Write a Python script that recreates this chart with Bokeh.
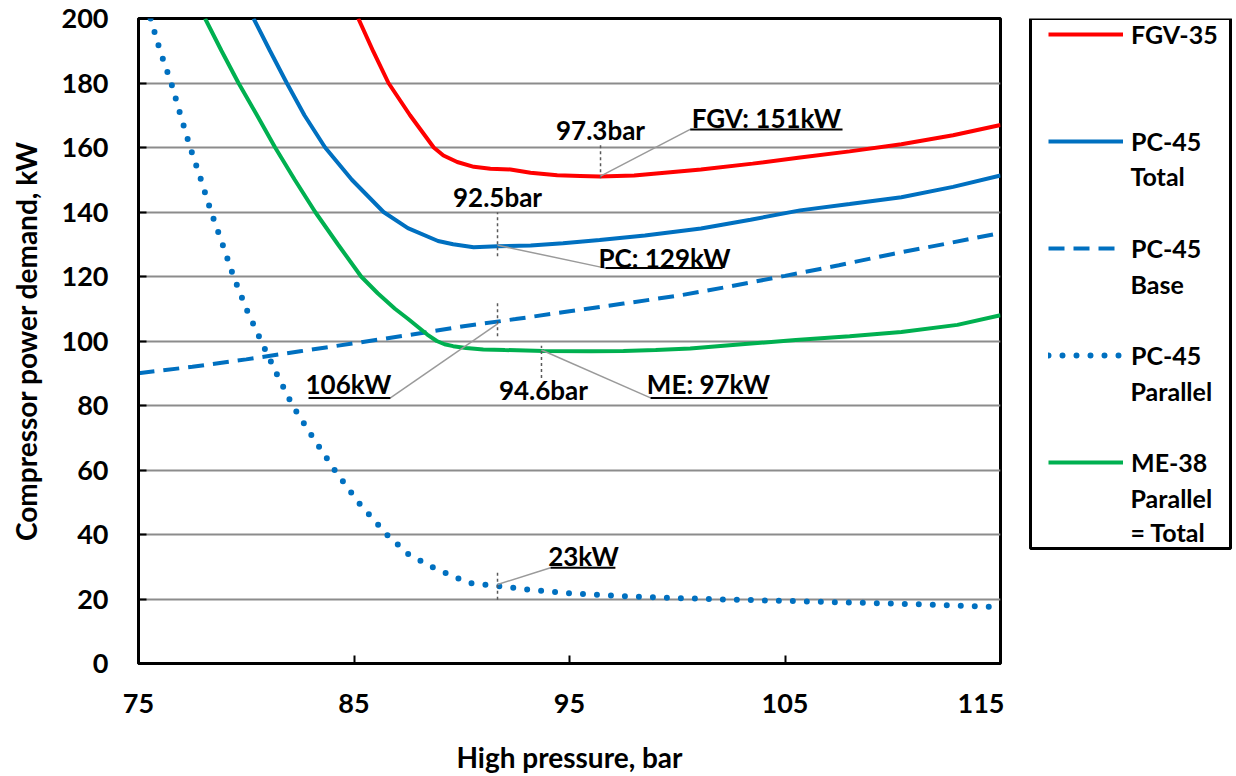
from bokeh.plotting import figure
from bokeh.models import (Range1d, Label, Legend, LegendItem, BoxAnnotation, FixedTicker)
from bokeh.layouts import row
from bokeh.embed import file_html
from bokeh.resources import INLINE

FONT = "Lato"

# ---------------- data ----------------
fgv_x = [85.2, 85.9, 86.6, 87.6, 88.7, 89.15, 89.79, 90.56, 91.33, 92.26, 93.19, 94.43, 95.5,
         96.4, 98.0, 101.1, 103.5, 105.7, 108.0, 110.4, 112.8, 115.0]
fgv_y = [200, 189.7, 180, 170, 160, 157.5, 155.5, 154.0, 153.4, 153.2, 152.2, 151.4, 151.2,
         151.0, 151.3, 153.2, 155.0, 156.9, 158.8, 161.0, 163.8, 167.0]

pct_x = [80.34, 81.1, 81.88, 82.7, 83.66, 84.9, 86.37, 87.5, 88.9, 89.6, 90.55, 91.66,
         93.2, 94.7, 96.4, 98.5, 101.1, 103.4, 105.7, 108.0, 110.4, 112.8, 115.0]
pct_y = [200, 190, 180, 170, 160, 150, 140, 135, 131.0, 130.0, 129.1, 129.4,
         129.6, 130.3, 131.3, 132.7, 134.9, 137.6, 140.5, 142.5, 144.6, 147.8, 151.3]

base_x = [75, 77.5, 80, 82.5, 85, 87.5, 90, 92.5, 95, 97.5, 100, 102.5, 105, 107.5, 110, 112.5, 115]
base_y = [90.0, 92.0, 94.3, 96.8, 99.3, 101.8, 104.5, 106.8, 109.2, 111.6, 114.0, 117.0,
          120.2, 123.5, 127.0, 130.2, 133.5]

par_x = [75.56, 76.0, 76.52, 76.95, 77.4, 77.9, 78.37, 78.9, 79.41, 80.0, 80.69, 81.4, 82.15,
         83.1, 84.1, 85.2, 86.52, 87.5, 88.6, 90.3, 91.66, 93.0, 95.0, 97.5, 100.0, 102.5,
         105.0, 107.5, 110.0, 112.5, 115.0]
par_y = [200, 190, 180, 170, 160, 150, 140, 130, 120, 110, 100, 90, 80,
         70, 60, 50, 40, 34, 30, 25.0, 24.0, 23.0, 21.8, 20.9, 20.3, 19.8,
         19.4, 19.0, 18.6, 18.1, 17.5]

me_x = [78.09, 78.85, 79.64, 80.5, 81.34, 82.25, 83.2, 84.25, 85.33, 86.1, 86.9, 87.5, 88.0,
        88.4, 88.84, 89.2, 89.6, 90.2, 91.0, 92.0, 93.8, 96.0, 97.5, 99.0, 100.6, 103.0,
        105.5, 108.0, 110.4, 113.0, 115.0]
me_y = [200, 190, 180, 170, 160, 150, 140, 130, 120, 114.8, 110, 106.9, 104.2,
        102.0, 100, 99.0, 98.4, 97.8, 97.4, 97.2, 96.9, 96.8, 96.9, 97.2, 97.7, 99.0,
        100.3, 101.5, 102.8, 105.0, 108.0]

x_ticks = [75, 85, 95, 105, 115]
y_ticks = [0, 20, 40, 60, 80, 100, 120, 140, 160, 180, 200]

# annotations
ann_text = ["97.3bar", "FGV: 151kW", "92.5bar", "PC: 129kW", "106kW", "94.6bar", "ME: 97kW", "23kW"]
ann_x = [96.44, 104.14, 91.66, 99.41, 84.74, 93.79, 101.45, 95.65]
ann_y = [165.3, 169.0, 144.6, 125.7, 86.7, 84.8, 86.7, 33.4]

mark_x = [96.44, 91.66, 91.66, 93.70, 91.66]
mark_y0 = [150.5, 126.3, 101.5, 88.5, 19.8]
mark_y1 = [161.6, 139.9, 111.8, 98.5, 28.8]

lead_x0 = [96.44, 91.66, 91.66, 93.70, 91.66]
lead_y0 = [151.1, 129.7, 105.3, 97.2, 24.5]
lead_x1 = [100.6, 96.67, 86.69, 98.76, 94.12]
lead_y1 = [165.6, 122.6, 82.35, 82.35, 29.7]

ul_x0 = [100.6, 96.67, 82.89, 98.76, 94.12]
ul_x1 = [107.67, 102.1, 86.69, 104.19, 97.13]
ul_y = [165.6, 122.6, 82.35, 82.35, 29.7]

legend_first = ["FGV-35", "PC-45", "PC-45", "PC-45", "ME-38"]
legend_more = ["Total", "Base", "Parallel", "Parallel", "= Total"]

# series styles
styles = [
    dict(line_color="#FF0000", line_width=4),
    dict(line_color="#0070C0", line_width=4),
    dict(line_color="#0070C0", line_width=4, line_dash="16 9"),
    dict(line_color="#0070C0", line_width=6, line_dash="0 14", line_cap="round"),
    dict(line_color="#00B050", line_width=4),
]

# ---------------- main figure ----------------
p = figure(width=1004, height=776, x_range=Range1d(75, 115), y_range=Range1d(0, 200),
           output_backend="svg", toolbar_location=None,
           min_border_left=138, min_border_right=4, min_border_top=18, min_border_bottom=112)
p.background_fill_color = "white"
p.border_fill_color = "white"
p.outline_line_color = "black"
p.outline_line_width = 3

for ax in (p.xaxis[0], p.yaxis[0]):
    ax.axis_line_width = 3
    ax.axis_line_color = "black"
    ax.major_tick_in = 8
    ax.major_tick_out = 0
    ax.major_tick_line_width = 2
    ax.minor_tick_line_color = None
    ax.major_label_text_font = FONT
    ax.major_label_text_font_style = "bold"
    ax.major_label_text_font_size = "27px"
    ax.major_label_text_color = "black"
    ax.axis_label_text_font = FONT
    ax.axis_label_text_font_style = "bold"
    ax.axis_label_text_font_size = "28px"
    ax.axis_label_text_color = "black"

p.xaxis.ticker = FixedTicker(ticks=x_ticks)
p.yaxis.ticker = FixedTicker(ticks=y_ticks)
p.xaxis.axis_label = "High pressure, bar"
p.yaxis.axis_label = "Compressor power demand, kW"
p.xaxis.major_label_standoff = 30
p.xaxis.axis_label_standoff = 24
p.yaxis.major_label_standoff = 30
p.yaxis.axis_label_standoff = 16

p.xgrid.visible = False
p.ygrid.ticker = FixedTicker(ticks=y_ticks)
p.ygrid.grid_line_color = "#8c8c8c"
p.ygrid.grid_line_width = 2

series = [(fgv_x, fgv_y), (pct_x, pct_y), (base_x, base_y), (par_x, par_y), (me_x, me_y)]
for (xs, ys), st in zip(series, styles):
    p.line(xs, ys, **st)

# annotation lines
p.segment(x0=mark_x, y0=mark_y0, x1=mark_x, y1=mark_y1, line_color="#595959",
          line_width=1.5, line_dash="3 3")
p.segment(x0=lead_x0, y0=lead_y0, x1=lead_x1, y1=lead_y1, line_color="#9a9a9a", line_width=1.5)
p.segment(x0=ul_x0, y0=ul_y, x1=ul_x1, y1=ul_y, line_color="black", line_width=2)

for t, x, y in zip(ann_text, ann_x, ann_y):
    p.add_layout(Label(x=x, y=y, text=t, text_align="center", text_baseline="middle",
                       text_font=FONT, text_font_style="bold", text_font_size="26px",
                       text_color="black"))

# ---------------- legend panel (frame aligned with main frame: y 18..664) ----------------
p2 = figure(width=232, height=776, x_range=Range1d(0, 1), y_range=Range1d(0, 1),
            output_backend="svg", toolbar_location=None,
            x_axis_location=None, y_axis_location=None, min_border=0)
p2.grid.visible = False
p2.outline_line_color = None
p2.background_fill_color = "white"
p2.border_fill_color = "white"

# legend-only renderers (placed outside the visible range)
dummies = [p2.line(x=[5, 6], y=[5, 6], **st) for st in styles]

legend = Legend(items=[LegendItem(label=lbl, renderers=[r]) for lbl, r in zip(legend_first, dummies)],
                location=(44, 186), margin=0, padding=0, spacing=77,
                glyph_width=75, glyph_height=30, label_height=30, label_width=80,
                label_standoff=8, border_line_alpha=0, background_fill_alpha=0,
                label_text_font=FONT, label_text_font_style="bold",
                label_text_font_size="25px", label_text_color="black")
p2.add_layout(legend)

more_y = [488, 380, 273, 166, 132]
for t, y in zip(legend_more, more_y):
    p2.add_layout(Label(x=126, y=y, x_units="screen", y_units="screen", text=t,
                        text_align="left", text_baseline="middle",
                        text_font=FONT, text_font_style="bold", text_font_size="25px",
                        text_color="black"))

p2.add_layout(BoxAnnotation(left=26, right=226, top=645, bottom=115,
                            left_units="screen", right_units="screen",
                            top_units="screen", bottom_units="screen",
                            fill_alpha=0, line_color="black", line_width=3, line_alpha=1))

layout = row(p, p2, spacing=0)
open("out.html", "w").write(file_html(layout, INLINE))
